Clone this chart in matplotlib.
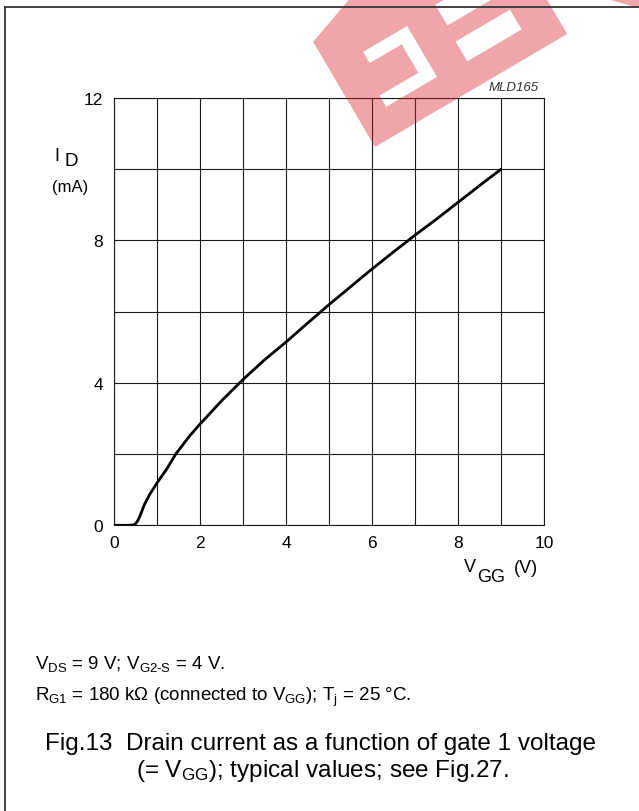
import numpy as np
import matplotlib.pyplot as plt
from matplotlib.path import Path
from matplotlib.patches import PathPatch

plt.rcParams['font.family'] = ['Liberation Sans', 'DejaVu Sans']
plt.rcParams['mathtext.fontset'] = 'custom'
plt.rcParams['mathtext.rm'] = 'Liberation Sans'
plt.rcParams['mathtext.it'] = 'Liberation Sans:italic'

# curve
vgg = [0, 0.3, 0.45, 0.5, 0.55, 0.6, 0.7, 0.83, 1.0, 1.22, 1.43, 1.76, 2.0,
       2.5, 3.0, 3.5, 4.0, 4.5, 5.0, 5.5, 6.0, 6.5, 7.0, 7.5, 8.0, 8.5, 9.0]
i_d = [0, 0, 0.01, 0.05, 0.14, 0.27, 0.58, 0.88, 1.2, 1.58, 2.0, 2.52, 2.85,
       3.5, 4.1, 4.65, 5.15, 5.68, 6.2, 6.7, 7.2, 7.68, 8.15, 8.6, 9.07, 9.54, 10.0]

x_ticks = [0, 2, 4, 6, 8, 10]
y_ticks = [0, 4, 8, 12]

W, H = 639, 812
fig = plt.figure(figsize=(W / 100, H / 100), dpi=100)

# main chart, placed in pixel coords
x0, x1, y0, y1 = 114.3, 544, 99, 526.3
ax = fig.add_axes([x0 / W, 1 - y1 / H, (x1 - x0) / W, (y1 - y0) / H])
ax.set_xlim(0, 10)
ax.set_ylim(0, 12)
ax.set_xticks(np.arange(0, 11, 1))
ax.set_yticks(np.arange(0, 13, 2))
ax.grid(True, color='#1a1a1a', linewidth=0.8)
ax.set_xticklabels([str(v) if v in x_ticks else '' for v in range(0, 11)], fontsize=12.5)
ax.set_yticklabels([str(v) if v in y_ticks else '' for v in range(0, 13, 2)], fontsize=12.5)
ax.tick_params(axis='x', length=0, pad=7)
ax.tick_params(axis='y', length=0, pad=8)
for sp in ax.spines.values():
    sp.set_color('#1a1a1a')
    sp.set_linewidth(0.8)
ax.plot(vgg, i_d, color='black', linewidth=2.0, solid_capstyle='round', zorder=3)

# overlay for text, border and watermark (pixel coords)
ov = fig.add_axes([0, 0, 1, 1], zorder=5)
ov.set_xlim(0, W)
ov.set_ylim(H, 0)
ov.axis('off')
ov.patch.set_alpha(0)

ov.plot([5, W], [8, 8], color='#333333', lw=1.3)
ov.plot([5, 5], [8, H], color='#333333', lw=1.3)

ov.text(54, 161, 'I', fontsize=13, va='baseline')
ov.text(64, 166, 'D', fontsize=13.5, va='baseline')
ov.text(70, 192, '(mA)', fontsize=12, ha='center', va='baseline')

ov.text(464, 572, 'V', fontsize=13, va='baseline')
ov.text(477, 582, 'GG', fontsize=13, va='baseline')
ov.text(514, 573, '(V)', fontsize=13, va='baseline')

ov.text(539, 91, 'MLD165', fontsize=9.5, style='italic', color='#333333',
        ha='right', va='baseline')

ov.text(35, 669, r'V$_{\mathregular{DS}}$ = 9 V; V$_{\mathregular{G2\text{-}S}}$ = 4 V.',
        fontsize=13.5, va='baseline')
ov.text(35, 701, r'R$_{\mathregular{G1}}$ = 180 k$\Omega$ (connected to V$_{\mathregular{GG}}$); '
        r'T$_{\mathregular{j}}$ = 25 °C.', fontsize=13.5, va='baseline')

ov.text(45, 750, 'Fig.13  Drain current as a function of gate 1 voltage',
        fontsize=17.5, va='baseline')
ov.text(322, 777, r'(= V$_{\mathregular{GG}}$); typical values; see Fig.27.',
        fontsize=17.5, ha='center', va='baseline')

# watermark logo, built in a rotated local frame
org = np.array([375.0, 148.0])
eu = np.array([0.862, -0.507])
ev = np.array([-0.507, -0.862])


def to_px(pts):
    return [tuple(org + u * eu + v * ev) for u, v in pts]


band = [(0, 0), (223, 0), (223, 200), (0, 122)]
hole1 = [(38, 88), (89, 88), (89, 29), (30, 29), (30, 42), (75, 42), (75, 75), (38, 75)]
hole2 = [(186, 27), (123, 27), (123, 50), (186, 50)]
hole3 = [(192, 68), (124, 68), (124, 92), (192, 92)]

verts, codes = [], []
for poly in [band, hole1, hole2, hole3]:
    p = to_px(poly)
    verts += p + [p[0]]
    codes += [Path.MOVETO] + [Path.LINETO] * (len(p) - 1) + [Path.CLOSEPOLY]
ov.add_patch(PathPatch(Path(verts, codes), facecolor='#d81e2a', edgecolor='none',
                       alpha=0.4))
ov.add_patch(plt.Polygon([(607, 0), (639, 0), (639, 9)], facecolor='#d81e2a',
                         edgecolor='none', alpha=0.4))

fig.savefig('out.png', dpi=100)
